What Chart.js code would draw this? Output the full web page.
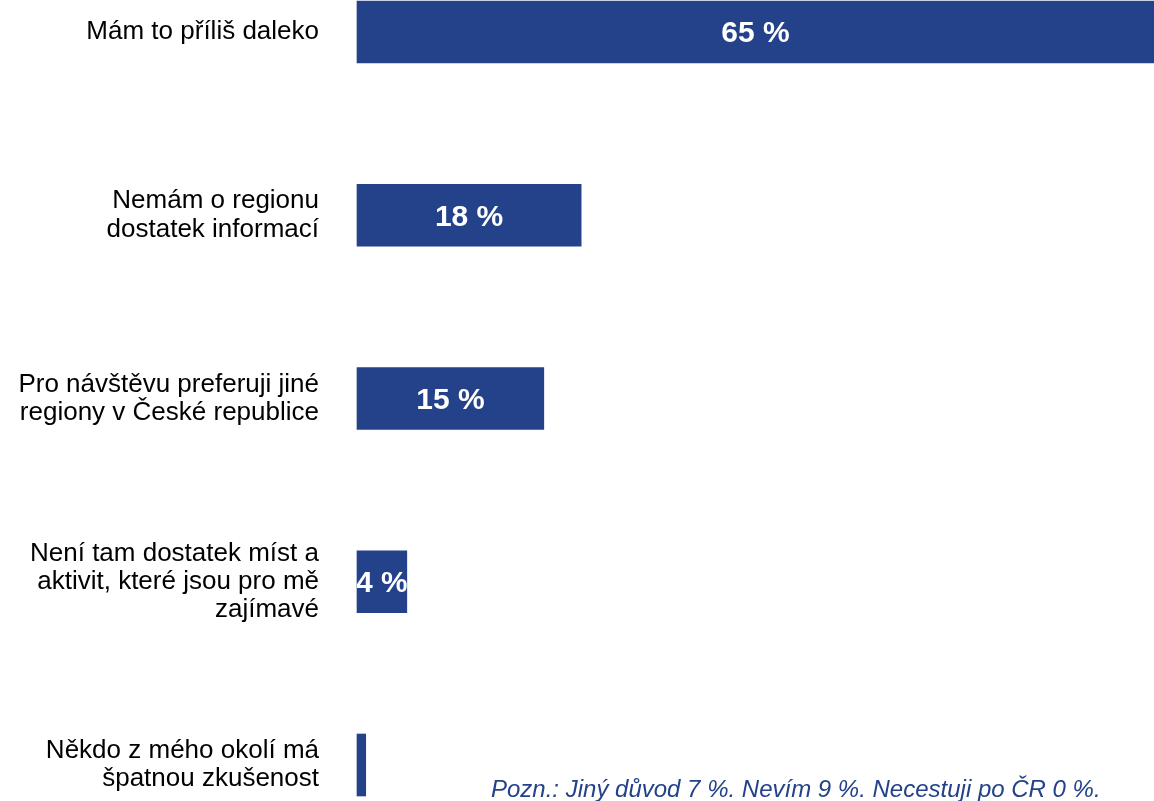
<!DOCTYPE html>
<html>
<head>
  <meta charset="utf-8">
  <title>Důvody nenavštívení regionu</title>
  <script src="https://cdn.jsdelivr.net/npm/chart.js"></script>
  <style>
    body { margin: 0; background: #fff; }
  </style>
</head>
<body>
  <canvas id="myChart" width="1154" height="801"></canvas>
  <script>
    // categories (multi-line labels) and shares in %
    const reasons = [
      ['Mám to příliš daleko'],
      ['Nemám o regionu', 'dostatek informací'],
      ['Pro návštěvu preferuji jiné', 'regiony v České republice'],
      ['Není tam dostatek míst a', 'aktivit, které jsou pro mě', 'zajímavé'],
      ['Někdo z mého okolí má', 'špatnou zkušenost']
    ];
    const shares = [65, 18, 15, 4, 0.7];
    const note = 'Pozn.: Jiný důvod 7 %. Nevím 9 %. Necestuji po ČR 0 %.';

    const barBlue = '#23428a';
    const fontFamily = "Arial, 'Liberation Sans', sans-serif";

    // white value labels inside bars, clipped to the visible bar
    const barLabels = {
      id: 'barLabels',
      afterDatasetsDraw(chart) {
        const ctx = chart.ctx;
        const meta = chart.getDatasetMeta(0);
        meta.data.forEach((bar, i) => {
          const v = shares[i];
          if (v < 1) return;
          const p = bar.getProps(['x', 'y', 'base', 'height'], true);
          const left = p.base;
          const right = Math.min(p.x, chart.width);
          ctx.save();
          ctx.beginPath();
          ctx.rect(left, p.y - p.height / 2, right - left, p.height);
          ctx.clip();
          ctx.fillStyle = '#fff';
          ctx.font = 'bold 30px ' + fontFamily;
          ctx.textAlign = 'center';
          ctx.textBaseline = 'middle';
          ctx.fillText(Math.round(v) + ' %', (left + right) / 2, p.y + 2);
          ctx.restore();
        });
      }
    };

    const noteText = {
      id: 'noteText',
      afterDraw(chart) {
        const ctx = chart.ctx;
        ctx.save();
        ctx.fillStyle = barBlue;
        ctx.font = 'italic 24px ' + fontFamily;
        ctx.textAlign = 'left';
        ctx.textBaseline = 'alphabetic';
        ctx.fillText(note, 491, 797);
        ctx.restore();
      }
    };

    var ctx = document.getElementById('myChart').getContext('2d');
    var myChart = new Chart(ctx, {
      type: 'bar',
      data: {
        labels: reasons,
        datasets: [{
          data: shares,
          backgroundColor: barBlue,
          borderWidth: 0,
          barThickness: 62,
          clip: false
        }]
      },
      options: {
        indexAxis: 'y',
        responsive: false,
        animation: false,
        layout: {
          padding: { top: 32, bottom: 36, left: 0, right: 0 }
        },
        plugins: {
          legend: { display: false },
          tooltip: { enabled: false }
        },
        scales: {
          x: {
            display: false,
            min: 0,
            max: 64
          },
          y: {
            offset: false,
            grid: { display: false, drawTicks: false },
            border: { display: false },
            afterFit: function(scale) {
              scale.width = 357;
              scale.paddingTop = 0;
              scale.paddingBottom = 0;
            },
            ticks: {
              color: '#000',
              padding: 38,
              font: { family: fontFamily, size: 26, lineHeight: 1.09 }
            }
          }
        }
      },
      plugins: [barLabels, noteText]
    });
  </script>
</body>
</html>
